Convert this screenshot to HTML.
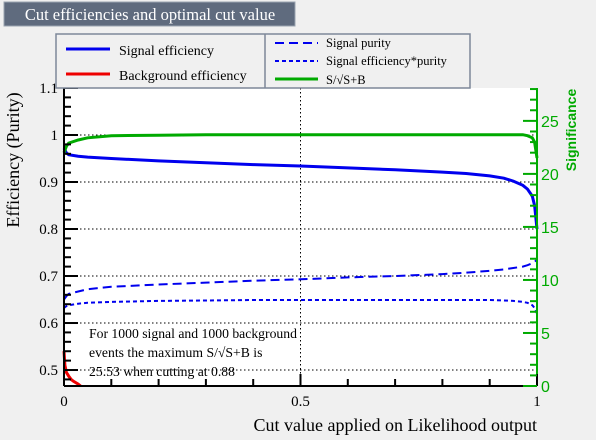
<!DOCTYPE html>
<html><head><meta charset="utf-8"><style>
body{margin:0;background:#f0f0f0;}
svg{display:block;font-family:"Liberation Serif",serif;}
</style></head><body>
<svg id="c" width="596" height="440">
<rect x="0" y="0" width="596" height="440" fill="#f0f0f0"/>
<g>
<rect x="4" y="2" width="291" height="24" fill="#5f6b7e" stroke="#9aa3b0" stroke-width="1"/>
<text x="150" y="20" fill="#fff" font-size="16.5" text-anchor="middle">Cut efficiencies and optimal cut value</text>
</g>
<rect x="64" y="88" width="473" height="298" fill="#fff"/>
<g id="grid"></g>
<g id="series"></g>
<g id="axes"></g>
<g>
<rect x="56" y="34" width="414" height="54" fill="#f0f0f0" stroke="#7d8799" stroke-width="1.5"/>
<line x1="265" y1="34" x2="265" y2="88" stroke="#7d8799" stroke-width="1.5"/>
<g><line x1="66" y1="49" x2="110" y2="49" stroke="#0000ee" stroke-width="3"/><text x="119" y="55" font-size="14">Signal efficiency</text></g>
<g><line x1="66" y1="74" x2="110" y2="74" stroke="#ee0000" stroke-width="3"/><text x="119" y="80" font-size="14">Background efficiency</text></g>
<g><line x1="275" y1="43" x2="318" y2="43" stroke="#0000ee" stroke-width="2" stroke-dasharray="9,5"/><text x="326" y="47" font-size="12.5">Signal purity</text></g>
<g><line x1="275" y1="61" x2="318" y2="61" stroke="#0000ee" stroke-width="2" stroke-dasharray="4,3"/><text x="326" y="65" font-size="12.5">Signal efficiency*purity</text></g>
<g><line x1="275" y1="79" x2="318" y2="79" stroke="#00aa00" stroke-width="3"/><text x="326" y="84" font-size="12.5">S/√S+B</text></g>
</g>
<g font-size="13.7">
<text x="89" y="338">For 1000 signal and 1000 background</text>
<text x="89" y="357">events the maximum S/√S+B is</text>
<text x="89" y="376">25.53 when cutting at  0.88</text>
</g>
<text transform="translate(19,160) rotate(-90)" font-size="18" text-anchor="middle">Efficiency (Purity)</text>
<text transform="translate(576,130) rotate(-90)" font-size="14" font-weight="bold" fill="#00aa00" text-anchor="middle" font-family="Liberation Sans,sans-serif">Significance</text>
<text x="537" y="431" font-size="18" text-anchor="end">Cut value applied on Likelihood output</text>
</svg>
<script>
const cutX=[0,0.005,0.01,0.03,0.05,0.1,0.2,0.3,0.4,0.5,0.6,0.7,0.8,0.85,0.9,0.93,0.95,0.97,0.98,0.99,0.995,1.0];
const sigEff=[0.972,0.962,0.958,0.955,0.953,0.95,0.945,0.941,0.937,0.934,0.93,0.926,0.921,0.918,0.913,0.908,0.902,0.893,0.885,0.87,0.85,0.8];
const sigPur=[0.65,0.657,0.662,0.667,0.672,0.677,0.682,0.686,0.69,0.693,0.697,0.7,0.704,0.707,0.711,0.714,0.717,0.72,0.723,0.727,0.73,0.735];
const effPur=[0.632,0.636,0.638,0.641,0.643,0.645,0.647,0.648,0.649,0.649,0.649,0.649,0.649,0.649,0.649,0.648,0.647,0.645,0.643,0.638,0.632,0.62];
const signif=[22.0,22.6,22.9,23.2,23.4,23.6,23.65,23.7,23.7,23.7,23.7,23.7,23.7,23.7,23.7,23.7,23.7,23.7,23.6,23.4,23.0,21.5];
const bkgX=[0,0.002,0.005,0.01,0.015,0.02,0.03,0.035];
const bkgEff=[0.54,0.51,0.495,0.487,0.48,0.476,0.47,0.466];
const yTicks=[0.5,0.6,0.7,0.8,0.9,1,1.1];
const yTickLabels=["0.5","0.6","0.7","0.8","0.9","1","1.1"];
const xTicks=[0,0.5,1];
const xTickLabels=["0","0.5","1"];
const rTicks=[0,5,10,15,20,25];
const NS="http://www.w3.org/2000/svg";
const X0=64,X1=537,YT=88,YB=386,ymin=0.466,ymax=1.1,rmax=28.1;
const sx=v=>X0+(X1-X0)*v;
const sy=v=>YB-(YB-YT)*(v-ymin)/(ymax-ymin);
const sr=v=>YB-(YB-YT)*v/rmax;
function mk(tag,attrs,parent){const e=document.createElementNS(NS,tag);for(const k in attrs)e.setAttribute(k,attrs[k]);parent.appendChild(e);return e;}
const grid=document.getElementById('grid'),ser=document.getElementById('series'),ax=document.getElementById('axes');
yTicks.forEach(v=>{if(v<1.1){const l=mk('line',{x1:X0,x2:X1,y1:sy(v),y2:sy(v),stroke:'#000','stroke-dasharray':'1.5,2.5','stroke-width':1},grid);

}});
{const l=mk('line',{x1:sx(0.5),x2:sx(0.5),y1:YT,y2:YB,stroke:'#000','stroke-dasharray':'1.5,2.5','stroke-width':1},grid);

}
function path(xs,ys,f,style,name){const d=xs.map((x,i)=>(i?'L':'M')+sx(x).toFixed(1)+','+f(ys[i]).toFixed(1)).join('');
const p=mk('path',Object.assign({d:d,fill:'none'},style),ser);

}
path(cutX,sigPur,sy,{stroke:'#0000ee','stroke-width':2,'stroke-dasharray':'9,5'},'signal-purity-line');
path(cutX,effPur,sy,{stroke:'#0000ee','stroke-width':2,'stroke-dasharray':'4,3'},'eff-times-purity-line');
path(cutX,sigEff,sy,{stroke:'#0000ee','stroke-width':3},'signal-efficiency-line');
path(bkgX,bkgEff,sy,{stroke:'#ee0000','stroke-width':3},'background-efficiency-line');
path(cutX,signif,sr,{stroke:'#00aa00','stroke-width':3},'significance-line');
mk('line',{x1:X0,x2:X0,y1:YT,y2:YB,stroke:'#000','stroke-width':2},ax);
mk('line',{x1:X0,x2:X1,y1:YB,y2:YB,stroke:'#000','stroke-width':2},ax);
mk('line',{x1:X1,x2:X1,y1:YT,y2:YB,stroke:'#00aa00','stroke-width':2},ax);
for(let v=0.48;v<=1.1001;v+=0.02){const big=Math.abs(v*10-Math.round(v*10))<1e-6;mk('line',{x1:X0,x2:X0+(big?14:7),y1:sy(v),y2:sy(v),stroke:'#000','stroke-width':2},ax);}
yTicks.forEach((v,i)=>{const t=mk('text',{x:58,y:sy(v)+5,'font-size':15,'text-anchor':'end'},ax);t.textContent=yTickLabels[i];

});
for(let i=0;i<=10;i++){const v=i/10;mk('line',{x1:sx(v),x2:sx(v),y1:YB,y2:YB-(i%5==0?12:7),stroke:'#000','stroke-width':2},ax);}
xTicks.forEach((v,i)=>{const t=mk('text',{x:sx(v),y:406,'font-size':15,'text-anchor':'middle'},ax);t.textContent=xTickLabels[i];

});
for(let v=0;v<=28;v++){mk('line',{x1:X1,x2:X1-(v%5==0?14:7),y1:sr(v),y2:sr(v),stroke:'#00aa00','stroke-width':2},ax);}
rTicks.forEach(v=>{const t=mk('text',{x:X1+4,y:sr(v)+6,'font-size':16,fill:'#00aa00','font-family':'Liberation Sans,sans-serif'},ax);t.textContent=v;

});
</script>
</body></html>
